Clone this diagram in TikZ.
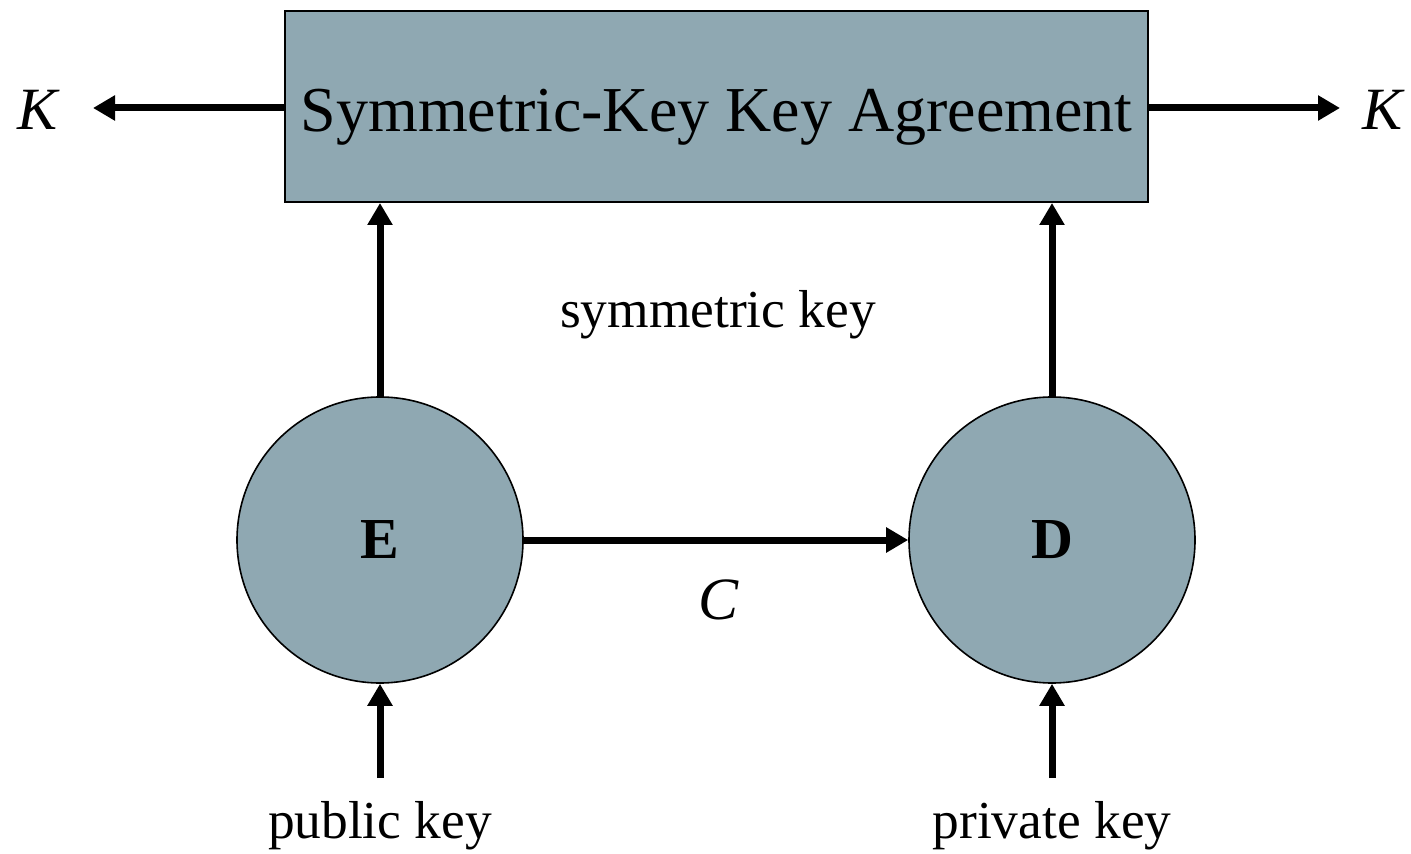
\documentclass[tikz,border=0pt]{standalone}
\usepackage{fontspec}
\setmainfont{Liberation Serif}
\usetikzlibrary{arrows.meta}
\definecolor{boxgray}{RGB}{143,168,178}

\begin{document}
\begin{tikzpicture}[
            x=0.5pt, y=-0.5pt,
            agree/.style={draw=black,line width=1pt,fill=boxgray,minimum width=431.5pt,minimum height=95.5pt,inner sep=0pt,text height=28pt,text depth=3pt,font=\fontsize{32}{36}\selectfont},
            proc/.style={circle,draw=black,line width=0.8pt,fill=boxgray,minimum size=143pt,inner sep=0pt,font=\fontsize{29}{34}\selectfont\bfseries},
            lbl/.style={inner sep=0pt,font=\fontsize{26.7}{30}\selectfont},
            keylbl/.style={inner sep=0pt,font=\fontsize{30}{34}\selectfont\itshape},
            flow/.style={line width=3.5pt,-{Triangle[length=11pt,width=12pt]}}
        ]
          \useasboundingbox (0,0) rectangle (1411,854);
          \node[agree] (ska) at (716.5,106.5) {Symmetric-Key Key Agreement};
          \node[proc] (enc) at (380,540) {E};
          \node[proc] (dec) at (1052,540) {D};
          \node[keylbl] (kl) at (38,110) {K};
          \node[keylbl] (kr) at (1382,110) {K};
          \node[lbl] (sym) at (718,315) {symmetric key};
          \node[keylbl] (c) at (718,600) {C};
          \node[lbl] (pub) at (380,826) {public key};
          \node[lbl] (priv) at (1052,826) {private key};
          \coordinate (kltip) at (93,108);
          \coordinate (krtip) at (1340,108);
          \coordinate (pubtail) at (380,778);
          \coordinate (privtail) at (1052,778);
          % arrows
          \draw[flow] (ska.west |- kltip) -- (kltip);
          \draw[flow] (ska.east |- krtip) -- (krtip);
          \draw[flow] (enc.north) -- (enc |- ska.south);
          \draw[flow] (dec.north) -- (dec |- ska.south);
          \draw[flow] (enc.east) -- (dec.west);
          \draw[flow] (pubtail) -- (enc.south);
          \draw[flow] (privtail) -- (dec.south);
        \end{tikzpicture}
\end{document}
